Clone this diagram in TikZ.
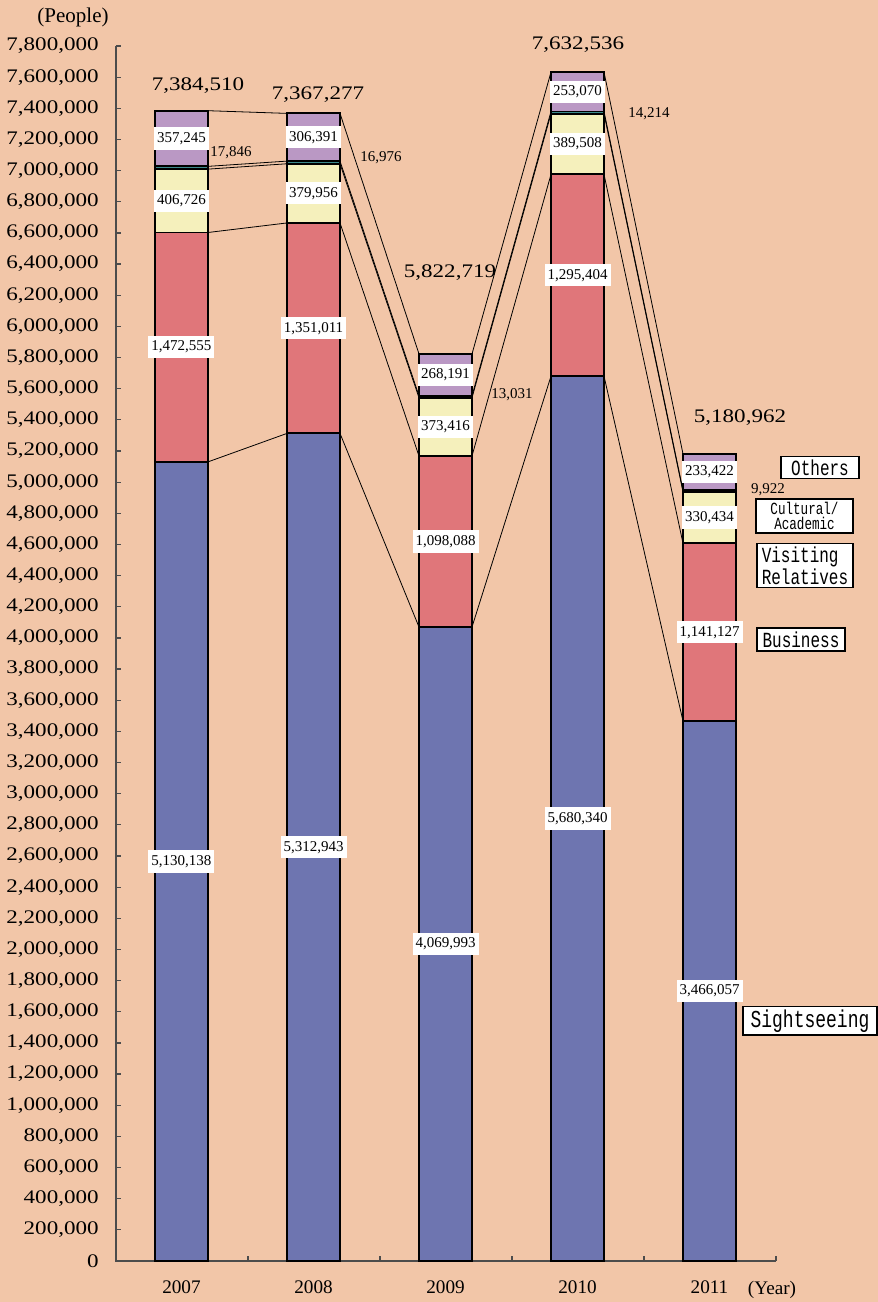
\documentclass[tikz,border=0pt]{standalone}
\usepackage{fontspec}
\usepackage{graphicx}
\setmainfont{Liberation Serif}
\setmonofont{Liberation Mono}
\usepackage{tikz}

\definecolor{bgpeach}{HTML}{F2C6A8}
\definecolor{sightblue}{HTML}{6E75B0}
\definecolor{busred}{HTML}{E0767A}
\definecolor{visityellow}{HTML}{F5F0BC}
\definecolor{cultteal}{HTML}{3C8A8C}
\definecolor{othpurple}{HTML}{BA98C4}

\newcommand{\peoplenum}[1]{\pgfmathprintnumber[fixed,precision=0,1000 sep={,},assume math mode=true]{#1e6}}
\newcommand{\widenum}[1]{\scalebox{1.2}[1]{#1}}
\newcommand{\tallmono}[1]{\scalebox{1}[1.35]{#1}}

\begin{document}
\begin{tikzpicture}[x=0.5pt,y=77.885pt,
    barseg/.style={draw=black,line width=0.9pt},
    link/.style={draw=black,line width=0.4pt},
    axisline/.style={draw=black!70,line width=0.6pt},
    ticklabel/.style={anchor=east,inner sep=1pt,font=\fontsize{9.6}{10}\selectfont},
    total/.style={inner sep=0pt,font=\fontsize{9.6}{10}\selectfont},
    vallabel/.style={fill=white,inner xsep=1.5pt,inner ysep=2.5pt,font=\fontsize{7.5}{8}\selectfont},
    smallval/.style={inner sep=0pt,font=\fontsize{7.5}{8}\selectfont},
    yearlabel/.style={inner sep=0pt,font=\fontsize{9.6}{10}\selectfont},
    legendbox/.style={draw=black,line width=0.8pt,fill=white,inner xsep=2pt,inner ysep=1.5pt,font=\fontsize{8}{9.5}\ttfamily}]
  \fill[bgpeach] (-116,-0.2632) rectangle (762,8.0953);
  \useasboundingbox (-116,-0.2632) rectangle (762,8.0953);

  % axes
  \draw[axisline] (0,7.8) -- (0,0) -- (660,0);
  \foreach \t in {0,2,...,78} {
    \draw[axisline] (0,\t/10) -- (5,\t/10);
    \node[ticklabel] (tick\t) at (-15,\t/10) {\widenum{\pgfmathprintnumber[fixed,precision=0,1000 sep={,},assume math mode=true]{\t00000}}};
  }
  \foreach \k in {1,...,5}
    \draw[axisline] (132*\k,0) -- (132*\k,0.032);
  \node[font=\fontsize{10.5}{11}\selectfont] (people) at (-43,7.986) {(People)};
  \node[yearlabel] (yearunit) at (656,-0.186) {(Year)};

  % bars: sightseeing / business / visiting / cultural / others
  \foreach \i/\vs/\vb/\vv/\vc/\vo/\vt/\tx/\ty/\cx/\cy in {
      1/5.130138/1.472555/0.406726/0.017846/0.357245/7.384510/82/7.543/115/7.113,
      2/5.312943/1.351011/0.379956/0.016976/0.306391/7.367277/202/7.486/265/7.081,
      3/4.069993/1.098088/0.373416/0.013031/0.268191/5.822719/334/6.343/396/5.560,
      4/5.680340/1.295404/0.389508/0.014214/0.253070/7.632536/462/7.806/533/7.364,
      5/3.466057/1.141127/0.330434/0.009922/0.233422/5.180962/624/5.412/652/4.950} {
    \pgfmathsetmacro\xl{39+132*(\i-1)}
    \pgfmathsetmacro\xr{\xl+53}
    \pgfmathsetmacro\xm{\xl+26.5}
    \pgfmathsetmacro\levA{\vs}
    \pgfmathsetmacro\levB{\levA+\vb}
    \pgfmathsetmacro\levC{\levB+\vv}
    \pgfmathsetmacro\levD{\levC+\vc}
    \pgfmathsetmacro\levE{\levD+\vo}
    \pgfmathtruncatemacro\yr{2006+\i}
    \draw[barseg,fill=sightblue] (\xl,0) rectangle (\xr,\levA);
    \draw[barseg,fill=busred] (\xl,\levA) rectangle (\xr,\levB);
    \draw[barseg,fill=visityellow] (\xl,\levB) rectangle (\xr,\levC);
    \draw[barseg,fill=cultteal] (\xl,\levC) rectangle (\xr,\levD);
    \draw[barseg,fill=othpurple] (\xl,\levD) rectangle (\xr,\levE);
    \foreach \k/\lv in {1/\levA,2/\levB,3/\levC,4/\levD,5/\levE} {
      \coordinate (l\i-\k) at (\xl,\lv);
      \coordinate (r\i-\k) at (\xr,\lv);
    }
    \node[vallabel] (sight\i) at (\xm,\levA/2) {\peoplenum{\vs}};
    \node[vallabel] (bus\i) at (\xm,{(\levA+\levB)/2}) {\peoplenum{\vb}};
    \node[vallabel] (visit\i) at (\xm,{(\levB+\levC)/2}) {\peoplenum{\vv}};
    \node[vallabel] (other\i) at (\xm,{(\levD+\levE)/2}) {\peoplenum{\vo}};
    \node[smallval] (cult\i) at (\cx,\cy) {\peoplenum{\vc}};
    \node[total] (total\i) at (\tx,\ty) {\widenum{\peoplenum{\vt}}};
    \node[yearlabel] (year\i) at (\xm,-0.167) {\yr};
  }

  % links between years
  \foreach \i in {1,...,4} {
    \pgfmathtruncatemacro\j{\i+1}
    \foreach \k in {1,...,5}
      \draw[link] (r\i-\k) -- (l\j-\k);
  }

  % legend
  \node[legendbox,minimum width=39pt,minimum height=10.5pt] (legothers) at (704,5.094) {\tallmono{Others}};
  \node[legendbox,minimum width=48.5pt,align=center,font=\fontsize{6.3}{7.6}\ttfamily] (legcult) at (688.5,4.783) {\tallmono{Cultural/}\\\tallmono{Academic}};
  \node[legendbox,minimum width=48pt,align=left] (legvisit) at (689,4.465) {\tallmono{Visiting}\\\tallmono{Relatives}};
  \node[legendbox,minimum width=44pt,minimum height=11.5pt] (legbus) at (685,3.990) {\tallmono{Business}};
  \node[legendbox,minimum width=67pt,minimum height=13pt,font=\fontsize{9}{10}\ttfamily] (legsight) at (694,1.541) {\tallmono{Sightseeing}};
\end{tikzpicture}
\end{document}
